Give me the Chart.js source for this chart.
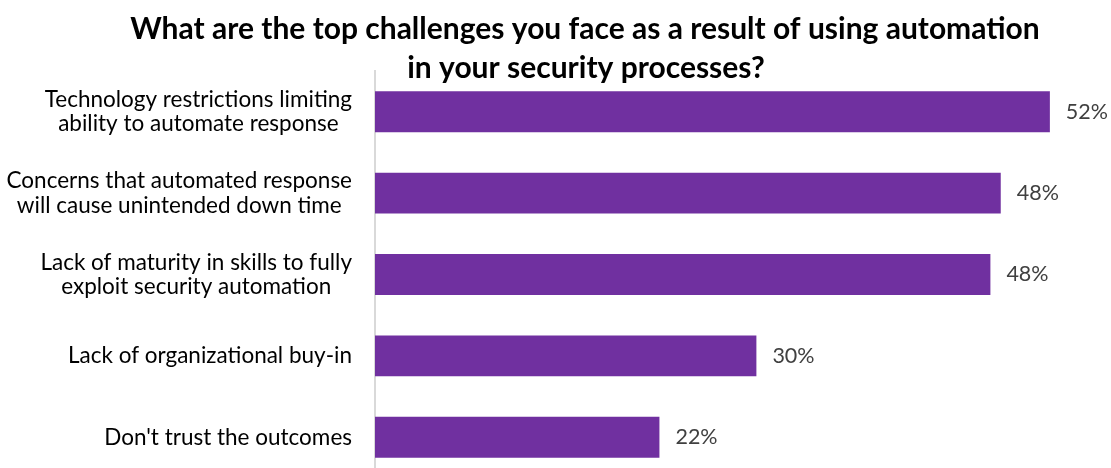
<!DOCTYPE html>
<html>
<head>
<meta charset="utf-8">
<script src="https://cdn.jsdelivr.net/npm/chart.js@4/dist/chart.umd.min.js"></script>
<style>
  html, body { margin: 0; padding: 0; background: #fff; overflow: hidden; }
  #wrap { width: 1111px; height: 468px; overflow: hidden; }
</style>
</head>
<body>
<div id="wrap"><canvas id="bars" width="1111" height="478"></canvas></div>
<script>
// survey answers, top to bottom
const categories = [
    ['Technology restrictions limiting', 'ability to automate response'],
    ['Concerns that automated response', 'will cause unintended down time'],
    ['Lack of maturity in skills to fully', 'exploit security automation'],
    ['Lack of organizational buy-in'],
    ["Don't trust the outcomes"]
];
// share of respondents (%)
const shares = [52.2, 48.4, 47.6, 29.5, 22.0];
const titleLines = [
    'What are the top challenges you face as a result of using automation',
    'in your security processes?'
];

const FONT = 'Lato, "Open Sans", sans-serif';

// category names, value labels and the heading are painted here
const textPlugin = {
    id: 'texts',
    afterDraw(chart) {
        const ctx = chart.ctx;
        const yScale = chart.scales.y;
        const area = chart.chartArea;
        ctx.save();

        // heading
        ctx.fillStyle = '#000';
        ctx.font = 'bold 30px ' + FONT;
        ctx.textAlign = 'center';
        ctx.textBaseline = 'middle';
        ctx.fillText(titleLines[0], 585, 29);
        ctx.fillText(titleLines[1], 586, 68);

        // category labels: block right-aligned, lines centred inside it
        ctx.font = '22.5px ' + FONT;
        const right = area.left - 23;
        categories.forEach((lines, i) => {
            const yc = yScale.getPixelForValue(i);
            const widest = Math.max(...lines.map(l => ctx.measureText(l).width));
            const xc = right - widest / 2;
            const lh = 24.5;
            const top = yc - (lines.length - 1) * lh / 2;
            lines.forEach((l, j) => ctx.fillText(l, xc, top + j * lh));
        });

        // value labels at the bar ends
        ctx.font = '21.5px ' + FONT;
        ctx.fillStyle = '#404040';
        ctx.textAlign = 'left';
        const meta = chart.getDatasetMeta(0);
        meta.data.forEach((bar, i) => {
            ctx.fillText(Math.round(shares[i]) + '%', bar.x + 16, bar.y);
        });
        ctx.restore();
    }
};

const ctx = document.getElementById('bars').getContext('2d');
const chart = new Chart(ctx, {
    type: 'bar',
    data: {
        labels: categories,
        datasets: [{
            data: shares,
            backgroundColor: '#7030A0',
            borderWidth: 0,
            barPercentage: 0.503,
            categoryPercentage: 1
        }]
    },
    options: {
        indexAxis: 'y',
        responsive: false,
        animation: false,
        layout: {
            padding: { left: 375, right: 12, top: 71, bottom: 0 }
        },
        plugins: {
            legend: { display: false },
            tooltip: { enabled: false }
        },
        scales: {
            x: {
                display: false,
                min: 0,
                max: 56
            },
            y: {
                ticks: { display: false },
                grid: { display: false, drawTicks: false },
                border: { display: true, color: '#d9d9d9', width: 2 }
            }
        }
    },
    plugins: [textPlugin]
});
</script>
</body>
</html>
